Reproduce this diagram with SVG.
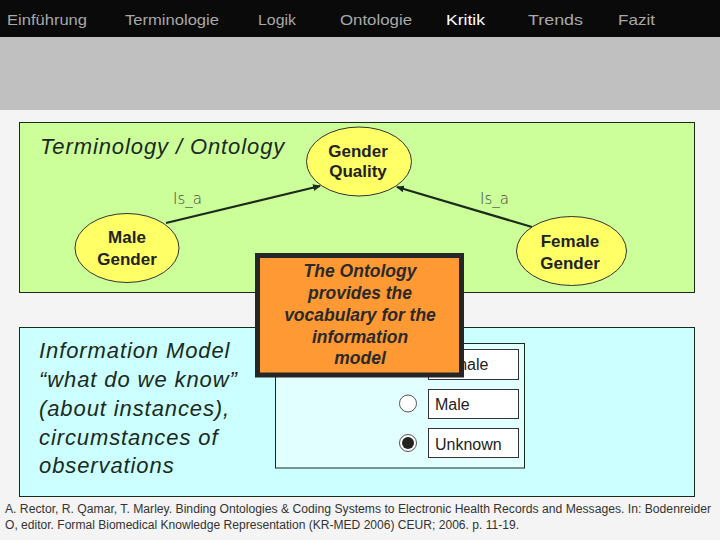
<svg xmlns="http://www.w3.org/2000/svg" width="720" height="540" viewBox="0 0 720 540">
<defs>
<marker id="arr" markerWidth="8" markerHeight="8" refX="7" refY="4" orient="auto" markerUnits="userSpaceOnUse">
<path d="M0,0.5 L8,4 L0,7.5 Z" fill="#1c2b1c"/>
</marker>
</defs>
<style>
.nav{font-family:"Liberation Sans",Arial,sans-serif;font-size:15px;fill:#a8a8a8}
.ell{fill:#ffff66;stroke:#333;stroke-width:1}
.etxt{font-family:"Liberation Sans",Arial,sans-serif;font-size:17px;font-weight:bold;fill:#222;text-anchor:middle}
.isa{font-family:"DejaVu Sans",sans-serif;font-size:15px;font-weight:200;fill:#444}
.big{font-family:"Liberation Sans",Arial,sans-serif;font-size:22px;font-style:italic;fill:#1a2a22;letter-spacing:0.9px}
.opt{fill:#fff;stroke:#333;stroke-width:1}
.otxt{font-family:"Liberation Sans",Arial,sans-serif;font-size:16px;fill:#222}
.note{font-family:"Liberation Sans",Arial,sans-serif;font-size:17.5px;font-weight:bold;font-style:italic;fill:#2a2a2a;text-anchor:middle}
.foot{font-family:"Liberation Sans",Arial,sans-serif;font-size:12px;fill:#333}
.conn{stroke:#1c2b1c;stroke-width:2.2;fill:none}
</style>
<rect x="0" y="0" width="720" height="540" fill="#f4f4f4"/>
<g id="header">
<rect x="0" y="0" width="720" height="37" fill="#0a0a0a"/>
<rect x="0" y="37" width="720" height="73" fill="#c0c0c0"/>
<text class="nav" x="7" y="25" textLength="80" lengthAdjust="spacingAndGlyphs">Einführung</text>
<text class="nav" x="125" y="25" textLength="94" lengthAdjust="spacingAndGlyphs">Terminologie</text>
<text class="nav" x="258" y="25" textLength="38" lengthAdjust="spacingAndGlyphs">Logik</text>
<text class="nav" x="340" y="25" textLength="72" lengthAdjust="spacingAndGlyphs">Ontologie</text>
<text class="nav" x="446" y="25" textLength="39" lengthAdjust="spacingAndGlyphs" style="fill:#ffffff">Kritik</text>
<text class="nav" x="528" y="25" textLength="55" lengthAdjust="spacingAndGlyphs">Trends</text>
<text class="nav" x="618" y="25" textLength="37" lengthAdjust="spacingAndGlyphs">Fazit</text>
</g>
<g id="terminology-panel">
<rect x="19.5" y="122.5" width="675" height="170" fill="#ccff99" stroke="#1a2a1a" stroke-width="1"/>
<text class="big" x="40" y="154">Terminology / Ontology</text>
</g>
<g id="info-panel">
<rect x="19.5" y="327.5" width="675" height="169" fill="#ccffff" stroke="#1a2a1a" stroke-width="1"/>
<text class="big" x="39" y="358">Information Model</text>
<text class="big" x="39" y="387">“what do we know”</text>
<text class="big" x="39" y="416">(about instances),</text>
<text class="big" x="39" y="445">circumstances of</text>
<text class="big" x="39" y="473">observations</text>
</g>
<g id="form">
<rect x="275.5" y="343.5" width="249" height="124.5" fill="#e2ffff" stroke="#1a2a1a" stroke-width="1"/>
<g id="opt-female">
<rect class="opt" x="428.5" y="349.5" width="90" height="30"/>
<text class="otxt" x="435" y="370">Female</text>
</g>
<g id="opt-male">
<circle cx="408" cy="403.5" r="8.5" fill="#fff" stroke="#555" stroke-width="1"/>
<rect class="opt" x="428.5" y="389.5" width="90" height="29"/>
<text class="otxt" x="435" y="410">Male</text>
</g>
<g id="opt-unknown">
<circle cx="408" cy="443" r="8.5" fill="#fff" stroke="#555" stroke-width="1"/>
<circle cx="408" cy="443" r="6" fill="#222"/>
<rect class="opt" x="428.5" y="428.5" width="90" height="29"/>
<text class="otxt" x="435" y="450">Unknown</text>
</g>
</g>
<g id="connectors">
<line class="conn" x1="166" y1="223" x2="320" y2="186" marker-end="url(#arr)"/>
<line class="conn" x1="532" y1="227" x2="397" y2="187" marker-end="url(#arr)"/>
<text class="isa" x="173" y="204">Is_a</text>
<text class="isa" x="480" y="204">Is_a</text>
</g>
<g id="gender-quality">
<ellipse class="ell" cx="359" cy="161.5" rx="52.5" ry="34.5"/>
<text class="etxt" x="358" y="157">Gender</text>
<text class="etxt" x="358" y="177">Quality</text>
</g>
<g id="male-gender">
<ellipse class="ell" cx="127" cy="248" rx="52" ry="34.5"/>
<text class="etxt" x="127" y="243">Male</text>
<text class="etxt" x="127" y="265">Gender</text>
</g>
<g id="female-gender">
<ellipse class="ell" cx="571.5" cy="251" rx="55" ry="34.5"/>
<text class="etxt" x="570" y="246.5">Female</text>
<text class="etxt" x="570" y="268.5">Gender</text>
</g>
<g id="note">
<rect x="257.5" y="255.5" width="204" height="119.5" fill="#ff9933" stroke="#262626" stroke-width="5"/>
<text class="note" x="360" y="277">The Ontology</text>
<text class="note" x="360" y="299">provides the</text>
<text class="note" x="360" y="321">vocabulary for the</text>
<text class="note" x="360" y="342.5">information</text>
<text class="note" x="360" y="364">model</text>
</g>
<g id="footer">
<text class="foot" x="5" y="513" textLength="706" lengthAdjust="spacingAndGlyphs">A. Rector, R. Qamar, T. Marley. Binding Ontologies &amp; Coding Systems to Electronic Health Records and Messages. In: Bodenreider</text>
<text class="foot" x="5" y="529" textLength="514" lengthAdjust="spacingAndGlyphs">O, editor. Formal Biomedical Knowledge Representation (KR-MED 2006) CEUR; 2006. p. 11-19.</text>
</g>
</svg>
